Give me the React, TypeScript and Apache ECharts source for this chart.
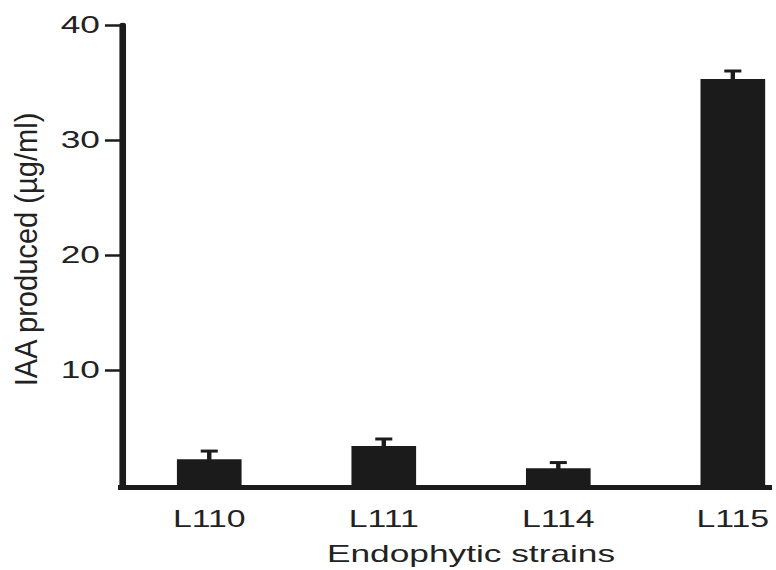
import React, { useEffect, useRef } from "react";
import * as echarts from "echarts";

const categories = ["L110", "L111", "L114", "L115"];
const values = [2.25, 3.4, 1.45, 35.3];
const errors = [0.7, 0.6, 0.5, 0.7];
const yTicks = [10, 20, 30, 40];

const W = 776;
const H = 570;
const INNER_W = 528;
const SX = W / INNER_W;
const FONT = '"Liberation Sans", Arial, Helvetica, sans-serif';
const INK = "#1b1b1b";
const TEXT = "#222222";

export default function App() {
  const ref = useRef<HTMLDivElement>(null);
  useEffect(() => {
    if (!ref.current) return;
    const chart = echarts.init(ref.current, null, { renderer: "svg" });
    chart.setOption({
      animation: false,
      backgroundColor: "#ffffff",
      grid: {
        left: 83,
        top: 25,
        width: 475,
        height: 460,
        containLabel: false,
        outerBoundsMode: "none",
      },
      xAxis: {
        type: "category",
        data: categories,
        boundaryGap: true,
        axisLine: { show: false },
        axisTick: { show: false },
        axisLabel: { fontSize: 23, fontFamily: FONT, color: TEXT, margin: 23 },
        name: "Endophytic strains",
        nameLocation: "middle",
        nameGap: 57,
        nameTextStyle: { fontSize: 24, fontFamily: FONT, color: TEXT },
      },
      yAxis: {
        type: "value",
        min: 0,
        max: 40,
        interval: 10,
        splitLine: { show: false },
        axisLine: { show: true, lineStyle: { color: INK, width: 4.5 } },
        axisTick: {
          show: true,
          length: 11.6,
          customValues: yTicks,
          lineStyle: { color: INK, width: 2.5 },
        },
        axisLabel: {
          customValues: yTicks,
          fontSize: 24,
          fontFamily: FONT,
          color: TEXT,
          margin: 15,
        },
      },
      graphic: [
        {
          type: "line",
          shape: { x1: 80.3, y1: 487.5, x2: 525.3, y2: 487.5 },
          style: { stroke: INK, lineWidth: 5 },
        },
        {
          type: "text",
          x: 17.7,
          y: 249.5,
          rotation: Math.PI / 2,
          scaleX: 1.385,
          style: {
            text: "IAA produced (µg/ml)",
            fontSize: 21,
            fontFamily: FONT,
            fill: TEXT,
            align: "center",
            verticalAlign: "middle",
          },
        },
      ],
      series: [
        {
          type: "bar",
          data: values,
          barWidth: 44,
          itemStyle: { color: INK },
        },
        {
          type: "custom",
          data: categories.map((c, i) => [i, values[i], errors[i]]),
          encode: { x: 0, y: 1 },
          renderItem: (params: any, api: any) => {
            const i = api.value(0);
            const v = api.value(1);
            const e = api.value(2);
            const base = api.coord([i, v]);
            const top = api.coord([i, v + e]);
            const hw = 5.8;
            return {
              type: "group",
              children: [
                {
                  type: "line",
                  shape: { x1: base[0], y1: base[1] + 1, x2: top[0], y2: top[1] },
                  style: { stroke: INK, lineWidth: 3 },
                },
                {
                  type: "line",
                  shape: { x1: top[0] - hw, y1: top[1], x2: top[0] + hw, y2: top[1] },
                  style: { stroke: INK, lineWidth: 3 },
                },
              ],
            };
          },
        },
      ],
    });
    return () => chart.dispose();
  }, []);

  return (
    <div
      style={{
        position: "absolute",
        left: 0,
        top: 0,
        width: W,
        height: H,
        overflow: "hidden",
        background: "#fff",
      }}
    >
      <div
        ref={ref}
        style={{
          width: INNER_W,
          height: H,
          transform: `scaleX(${SX})`,
          transformOrigin: "0 0",
        }}
      />
    </div>
  );
}
